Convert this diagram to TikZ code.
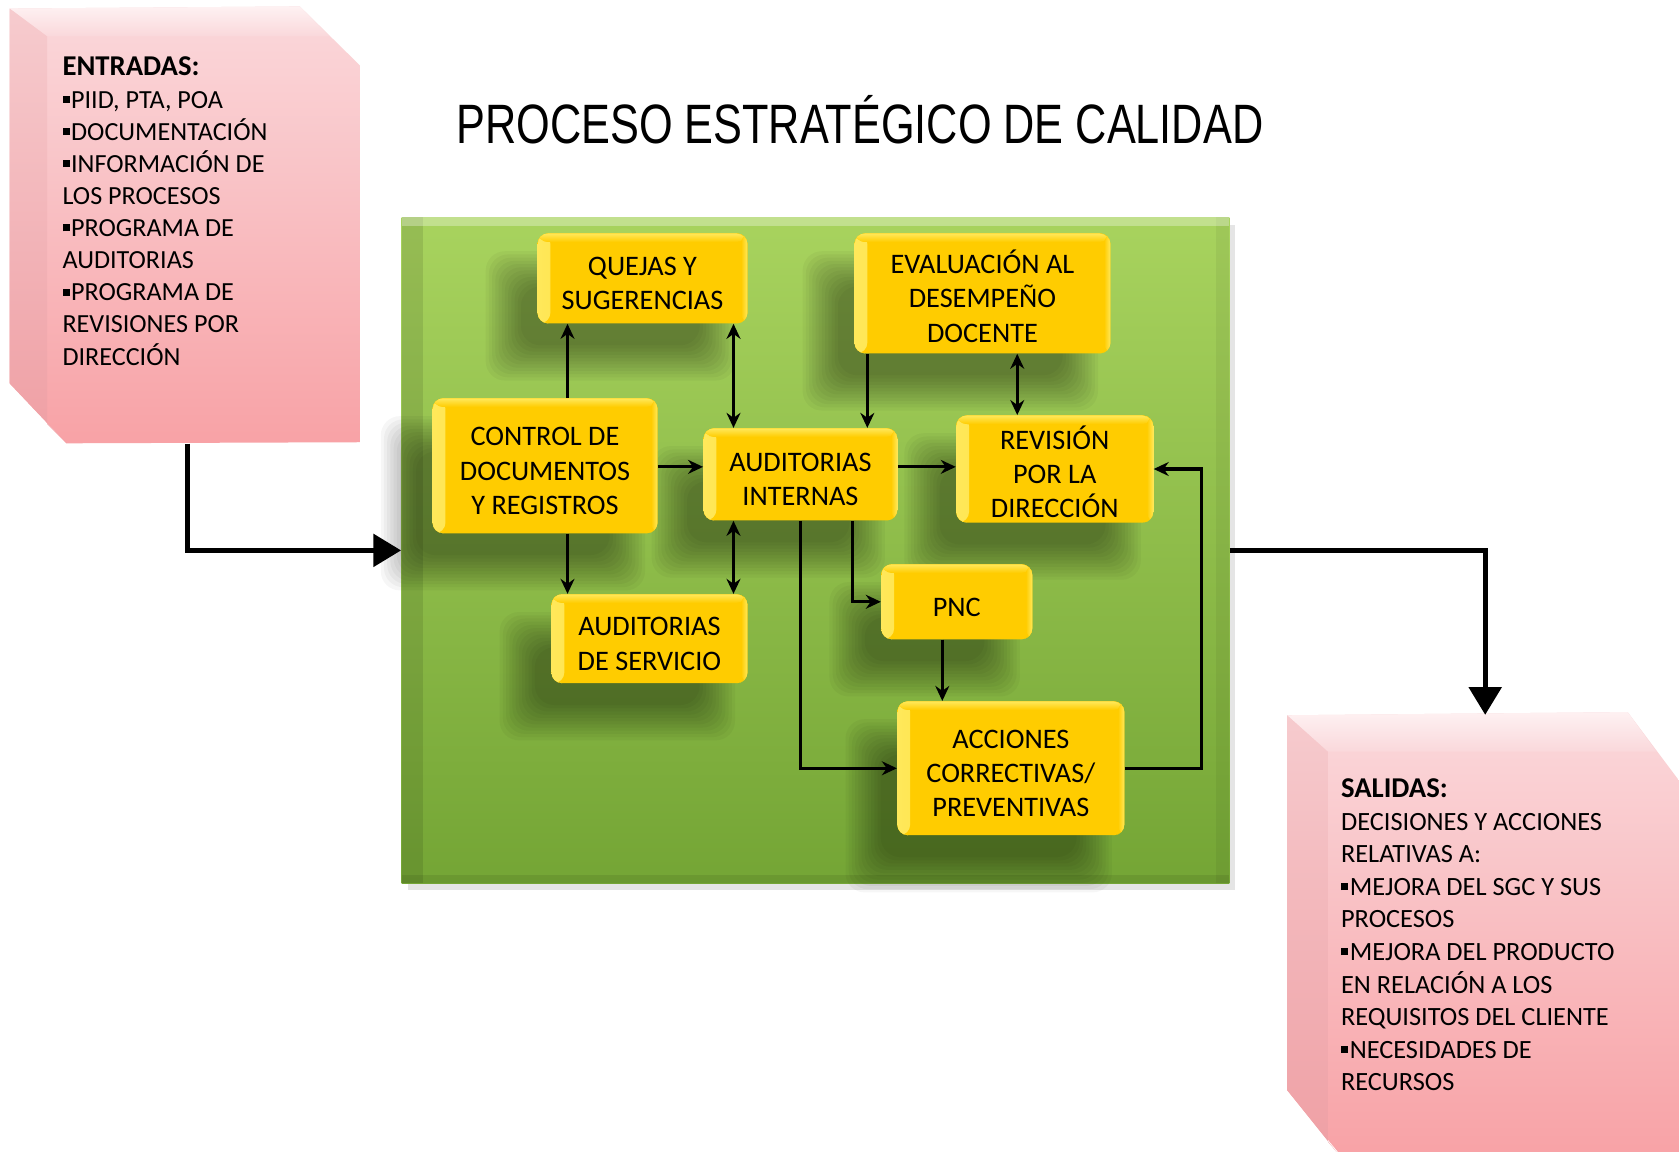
\documentclass[tikz,border=0pt]{standalone}
\usepackage{fontspec}
\usepackage{graphicx}
\setmainfont{Carlito}
\newfontfamily\titlefont{Liberation Sans}
\usetikzlibrary{arrows.meta,calc}
\pgfdeclarelayer{background}
\pgfsetlayers{background,main}
\definecolor{ybox}{HTML}{FFCC00}
\definecolor{ylight}{HTML}{FFE85A}
\definecolor{gtop}{HTML}{A8D35E}
\definecolor{gbot}{HTML}{74A535}
\definecolor{pktop}{HTML}{FAD8DB}
\definecolor{pkbot}{HTML}{F8A2A6}
\definecolor{pkface}{HTML}{FEF1F2}
\definecolor{pksidetop}{HTML}{F6CBCE}
\definecolor{pksidebot}{HTML}{EF9FA4}
\newcommand\bul{\rule[0.2em]{0.27em}{0.27em}\kern0.06em}
\newcommand\yt[1]{\raisebox{-3.5pt}[\height][\depth]{\begin{tabular}{@{}c@{}}#1\end{tabular}}}
\newcommand\boxshadow[1]{%
  \foreach \k in {0,...,11}{%
    \fill[black,opacity=0.036,rounded corners=9pt]
      ($(#1.north west)+(-48+3*\k,17+3*\k)$) rectangle ($(#1.south east)+(-12-3*\k,53-3*\k)$);}}
\tikzset{
  ybx/.style={rectangle, rounded corners=5pt, fill=ybox, inner sep=0pt, align=center,
    font=\fontsize{13.2}{16}\selectfont,
    path picture={
      \fill[left color=ylight,right color=ybox] (path picture bounding box.north west) rectangle ([xshift=6pt]path picture bounding box.south west);
      \fill[top color=ylight,bottom color=ybox] (path picture bounding box.north west) rectangle ([yshift=-4pt]path picture bounding box.north east);
      \fill[left color=ybox,right color=ylight] ([xshift=-3pt]path picture bounding box.north east) rectangle (path picture bounding box.south east);
    }},
  arr/.style={line width=1.5pt, -{Stealth[length=7pt,width=6.5pt]}},
  darr/.style={line width=1.5pt, {Stealth[length=7pt,width=6.5pt]}-{Stealth[length=7pt,width=6.5pt]}},
  bigarr/.style={line width=2.5pt, -{Triangle[length=13pt,width=15pt]}},
  pinktext/.style={anchor=north west, inner sep=0pt, align=left, font=\fontsize{12.2}{15}\selectfont},
}
\begin{document}
\begin{tikzpicture}[x=0.5pt,y=-0.5pt]
\useasboundingbox (0,0) rectangle (1568,1075);
\begin{pgfonlayer}{background}
  \fill[white] (0,0) rectangle (1568,1075);
\end{pgfonlayer}
\clip (0,0) rectangle (1568,1075);

% x / y reference coordinates
\coordinate (c175) at (175,0);
\coordinate (c530) at (530,0);
\coordinate (c685) at (685,0);
\coordinate (c796) at (796,0);
\coordinate (c810) at (810,0);
\coordinate (c880) at (880,0);
\coordinate (c950) at (950,0);
\coordinate (c1122) at (1122,0);
\coordinate (c1387) at (1387,0);
\coordinate (r436) at (0,436);

% title
\node[font=\titlefont\fontsize{25.9}{30}\selectfont, anchor=base, inner sep=0pt] (title) at (803,134)
  {\scalebox{0.78}[1]{PROCESO ESTRATÉGICO DE CALIDAD}};

% left pink box (ENTRADAS)
\shade[top color=pktop, bottom color=pkbot] (9,8) -- (280,6) -- (336,61) -- (336,413) -- (62,414) -- (9,358) -- cycle;
\shade[top color=pkface, bottom color=pktop] (9,8) -- (280,6) -- (308,34) -- (44,34) -- cycle;
\shade[top color=pksidetop, bottom color=pksidebot] (9,8) -- (44,34) -- (44,396) -- (62,414) -- (9,358) -- cycle;
\node[inner sep=0pt, minimum width=163.5pt, minimum height=204pt] (entradas) at (172.5,210) {};
\node[pinktext] (entxt) at (58,53) {{\fontsize{13.4}{15}\selectfont\bfseries ENTRADAS:}\\
  \bul PIID, PTA, POA\\
  \bul DOCUMENTACIÓN\\
  \bul INFORMACIÓN DE\\
  LOS PROCESOS\\
  \bul PROGRAMA DE\\
  AUDITORIAS\\
  \bul PROGRAMA DE\\
  REVISIONES POR\\
  DIRECCIÓN};

% right pink box (SALIDAS)
\shade[top color=pktop, bottom color=pkbot] (1202,668) -- (1520,665) -- (1580,745) -- (1580,1080) -- (1253,1080) -- (1202,1018) -- cycle;
\shade[top color=pkface, bottom color=pktop] (1202,668) -- (1520,665) -- (1547,702) -- (1240,702) -- cycle;
\shade[top color=pksidetop, bottom color=pksidebot] (1202,668) -- (1240,702) -- (1240,1066) -- (1250,1078) -- (1202,1018) -- cycle;
\node[inner sep=0pt, minimum width=183pt, minimum height=203.5pt] (salidas) at (1385,871.5) {};
\node[pinktext, font=\fontsize{12.3}{15.2}\selectfont] (saltxt) at (1252,727) {{\fontsize{13.4}{15.2}\selectfont\bfseries SALIDAS:}\\
  DECISIONES Y ACCIONES\\
  RELATIVAS A:\\
  \bul MEJORA DEL SGC Y SUS\\
  PROCESOS\\
  \bul MEJORA DEL PRODUCTO\\
  EN RELACIÓN A LOS\\
  REQUISITOS DEL CLIENTE\\
  \bul NECESIDADES DE\\
  RECURSOS};

% yellow boxes
\node[ybx, minimum width=98pt, minimum height=42pt] (quejas) at (600,260) {\yt{QUEJAS Y\\SUGERENCIAS}};
\node[ybx, minimum width=119.5pt, minimum height=56pt] (eval) at (917.5,274) {\yt{EVALUACIÓN AL\\DESEMPEÑO\\DOCENTE}};
\node[ybx, minimum width=105pt, minimum height=63pt] (control) at (509,435) {\yt{CONTROL DE\\DOCUMENTOS\\Y REGISTROS}};
\node[ybx, minimum width=90.5pt, minimum height=43pt] (ai) at (747.5,443) {\yt{AUDITORIAS\\INTERNAS}};
\node[ybx, minimum width=92pt, minimum height=50pt] (rev) at (985,438) {\yt{REVISIÓN\\POR LA\\DIRECCIÓN}};
\node[ybx, minimum width=70.5pt, minimum height=35pt] (pnc) at (893.5,562) {\yt{PNC}};
\node[ybx, minimum width=91.5pt, minimum height=41.5pt] (ads) at (606.5,596.5) {\yt{AUDITORIAS\\DE SERVICIO}};
\node[ybx, minimum width=106pt, minimum height=62.5pt] (acc) at (944,717.5) {\yt{ACCIONES\\CORRECTIVAS/\\PREVENTIVAS}};

% green process box and shadows (background layer)
\begin{pgfonlayer}{background}
  \fill[black,opacity=0.10] (381,210) rectangle (1153,831);
  \node[inner sep=0pt, minimum width=386.5pt, minimum height=311pt, top color=gtop, bottom color=gbot,
    path picture={
      \fill[black,opacity=0.10] (path picture bounding box.north west) rectangle ([xshift=10pt]path picture bounding box.south west);
      \fill[black,opacity=0.05] ([xshift=-6pt]path picture bounding box.north east) rectangle (path picture bounding box.south east);
      \fill[white,opacity=0.30] (path picture bounding box.north west) rectangle ([yshift=-4pt]path picture bounding box.north east);
      \fill[black,opacity=0.08] ([yshift=4pt]path picture bounding box.south west) rectangle (path picture bounding box.south east);
    }] (proc) at (761.5,514) {};
  \boxshadow{quejas}
  \boxshadow{eval}
  \boxshadow{control}
  \boxshadow{ai}
  \boxshadow{rev}
  \boxshadow{pnc}
  \boxshadow{ads}
  \boxshadow{acc}
\end{pgfonlayer}

% connectors inside
\draw[arr] (control.north -| c530) -- (quejas.south -| c530);
\draw[darr] (quejas.south -| c685) -- (ai.north -| c685);
\draw[arr] (eval.south -| c810) -- (ai.north -| c810);
\draw[darr] (eval.south -| c950) -- (rev.north -| c950);
\draw[arr] (control.east |- r436) -- (ai.west |- r436);
\draw[arr] (ai.east |- r436) -- (rev.west |- r436);
\draw[arr] (control.south -| c530) -- (ads.north -| c530);
\draw[darr] (ai.south -| c685) -- (ads.north -| c685);
\draw[arr] (ai.south -| c796) |- (pnc.west);
\draw[arr] (ai.south) |- (acc.west);
\draw[arr] (pnc.south -| c880) -- (acc.north -| c880);
\draw[arr] (acc.east) -- (c1122 |- acc.east) |- (rev.east);

% big connectors
\draw[bigarr] (entradas.south -| c175) |- (proc.west);
\draw[bigarr] (proc.east) -| (c1387 |- salidas.north);
\end{tikzpicture}
\end{document}
